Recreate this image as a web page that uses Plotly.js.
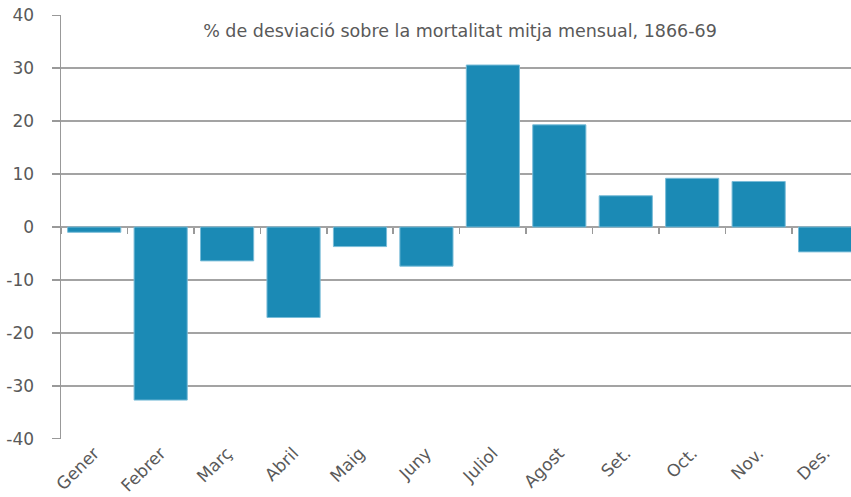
<!DOCTYPE html>
<html>
<head>
<meta charset="utf-8">
<script src="https://cdn.plot.ly/plotly-3.0.1.min.js"></script>
<style>html,body{margin:0;padding:0;background:#fff;}#chart{width:851px;height:497px;}</style>
</head>
<body>
<div id="chart"></div>
<script>
const months = ["Gener","Febrer","Març","Abril","Maig","Juny","Juliol","Agost","Set.","Oct.","Nov.","Des."];
const deviation = [-1.0, -32.7, -6.4, -17.1, -3.7, -7.4, 30.6, 19.3, 5.9, 9.2, 8.6, -4.7];
const yTicks = [-40, -30, -20, -10, 0, 10, 20, 30, 40];
const titleText = "% de desviació sobre la mortalitat mitja mensual, 1866-69";

const textColor = "#595959";
const gridColor = "#a3a3a3";
const font = "DejaVu Sans, sans-serif";

const traces = [
  {
    type: "bar",
    x: months,
    y: deviation,
    xaxis: "x",
    yaxis: "y",
    marker: { color: "#1b8ab5", line: { color: "#79bcd8", width: 1 } },
    hoverinfo: "x+y"
  },
  {
    type: "scatter",
    mode: "none",
    x: months,
    y: months.map(() => null),
    xaxis: "x2",
    yaxis: "y",
    hoverinfo: "skip",
    showlegend: false
  }
];

const xr = [-0.5, 11.39];
const layout = {
  width: 851,
  height: 497,
  margin: { l: 61, r: 0, t: 15, b: 58 },
  paper_bgcolor: "#fff",
  plot_bgcolor: "#fff",
  showlegend: false,
  bargap: 0.2,
  font: { family: font, color: textColor, size: 17 },
  title: {
    text: titleText,
    x: 460 / 851,
    xanchor: "center",
    xref: "container",
    y: 1 - 31 / 497,
    yanchor: "middle",
    yref: "container",
    font: { family: font, size: 17.5, color: textColor }
  },
  xaxis: {
    type: "category",
    range: xr,
    showgrid: false,
    zeroline: false,
    showline: false,
    ticks: "",
    tickangle: -45,
    tickfont: { family: font, size: 17, color: textColor }
  },
  xaxis2: {
    type: "category",
    overlaying: "x",
    anchor: "free",
    position: 0.5,
    side: "bottom",
    range: xr,
    tickson: "boundaries",
    ticks: "outside",
    ticklen: 6,
    tickwidth: 1.5,
    tickcolor: "#999999",
    showticklabels: false,
    showgrid: false,
    showline: false,
    zeroline: false
  },
  yaxis: {
    range: [-40.05, 40.05],
    tickvals: yTicks,
    ticktext: yTicks.map(String),
    showgrid: true,
    gridcolor: gridColor,
    gridwidth: 1.5,
    zeroline: true,
    zerolinecolor: gridColor,
    zerolinewidth: 1.5,
    showline: true,
    linecolor: "#999999",
    linewidth: 1.5,
    ticks: "outside",
    ticklen: 8,
    tickwidth: 1.5,
    tickcolor: "#999999",
    ticklabelstandoff: 14,
    tickfont: { family: font, size: 17, color: textColor }
  }
};

Plotly.newPlot("chart", traces, layout, { displayModeBar: false, staticPlot: true });
</script>
</body>
</html>
